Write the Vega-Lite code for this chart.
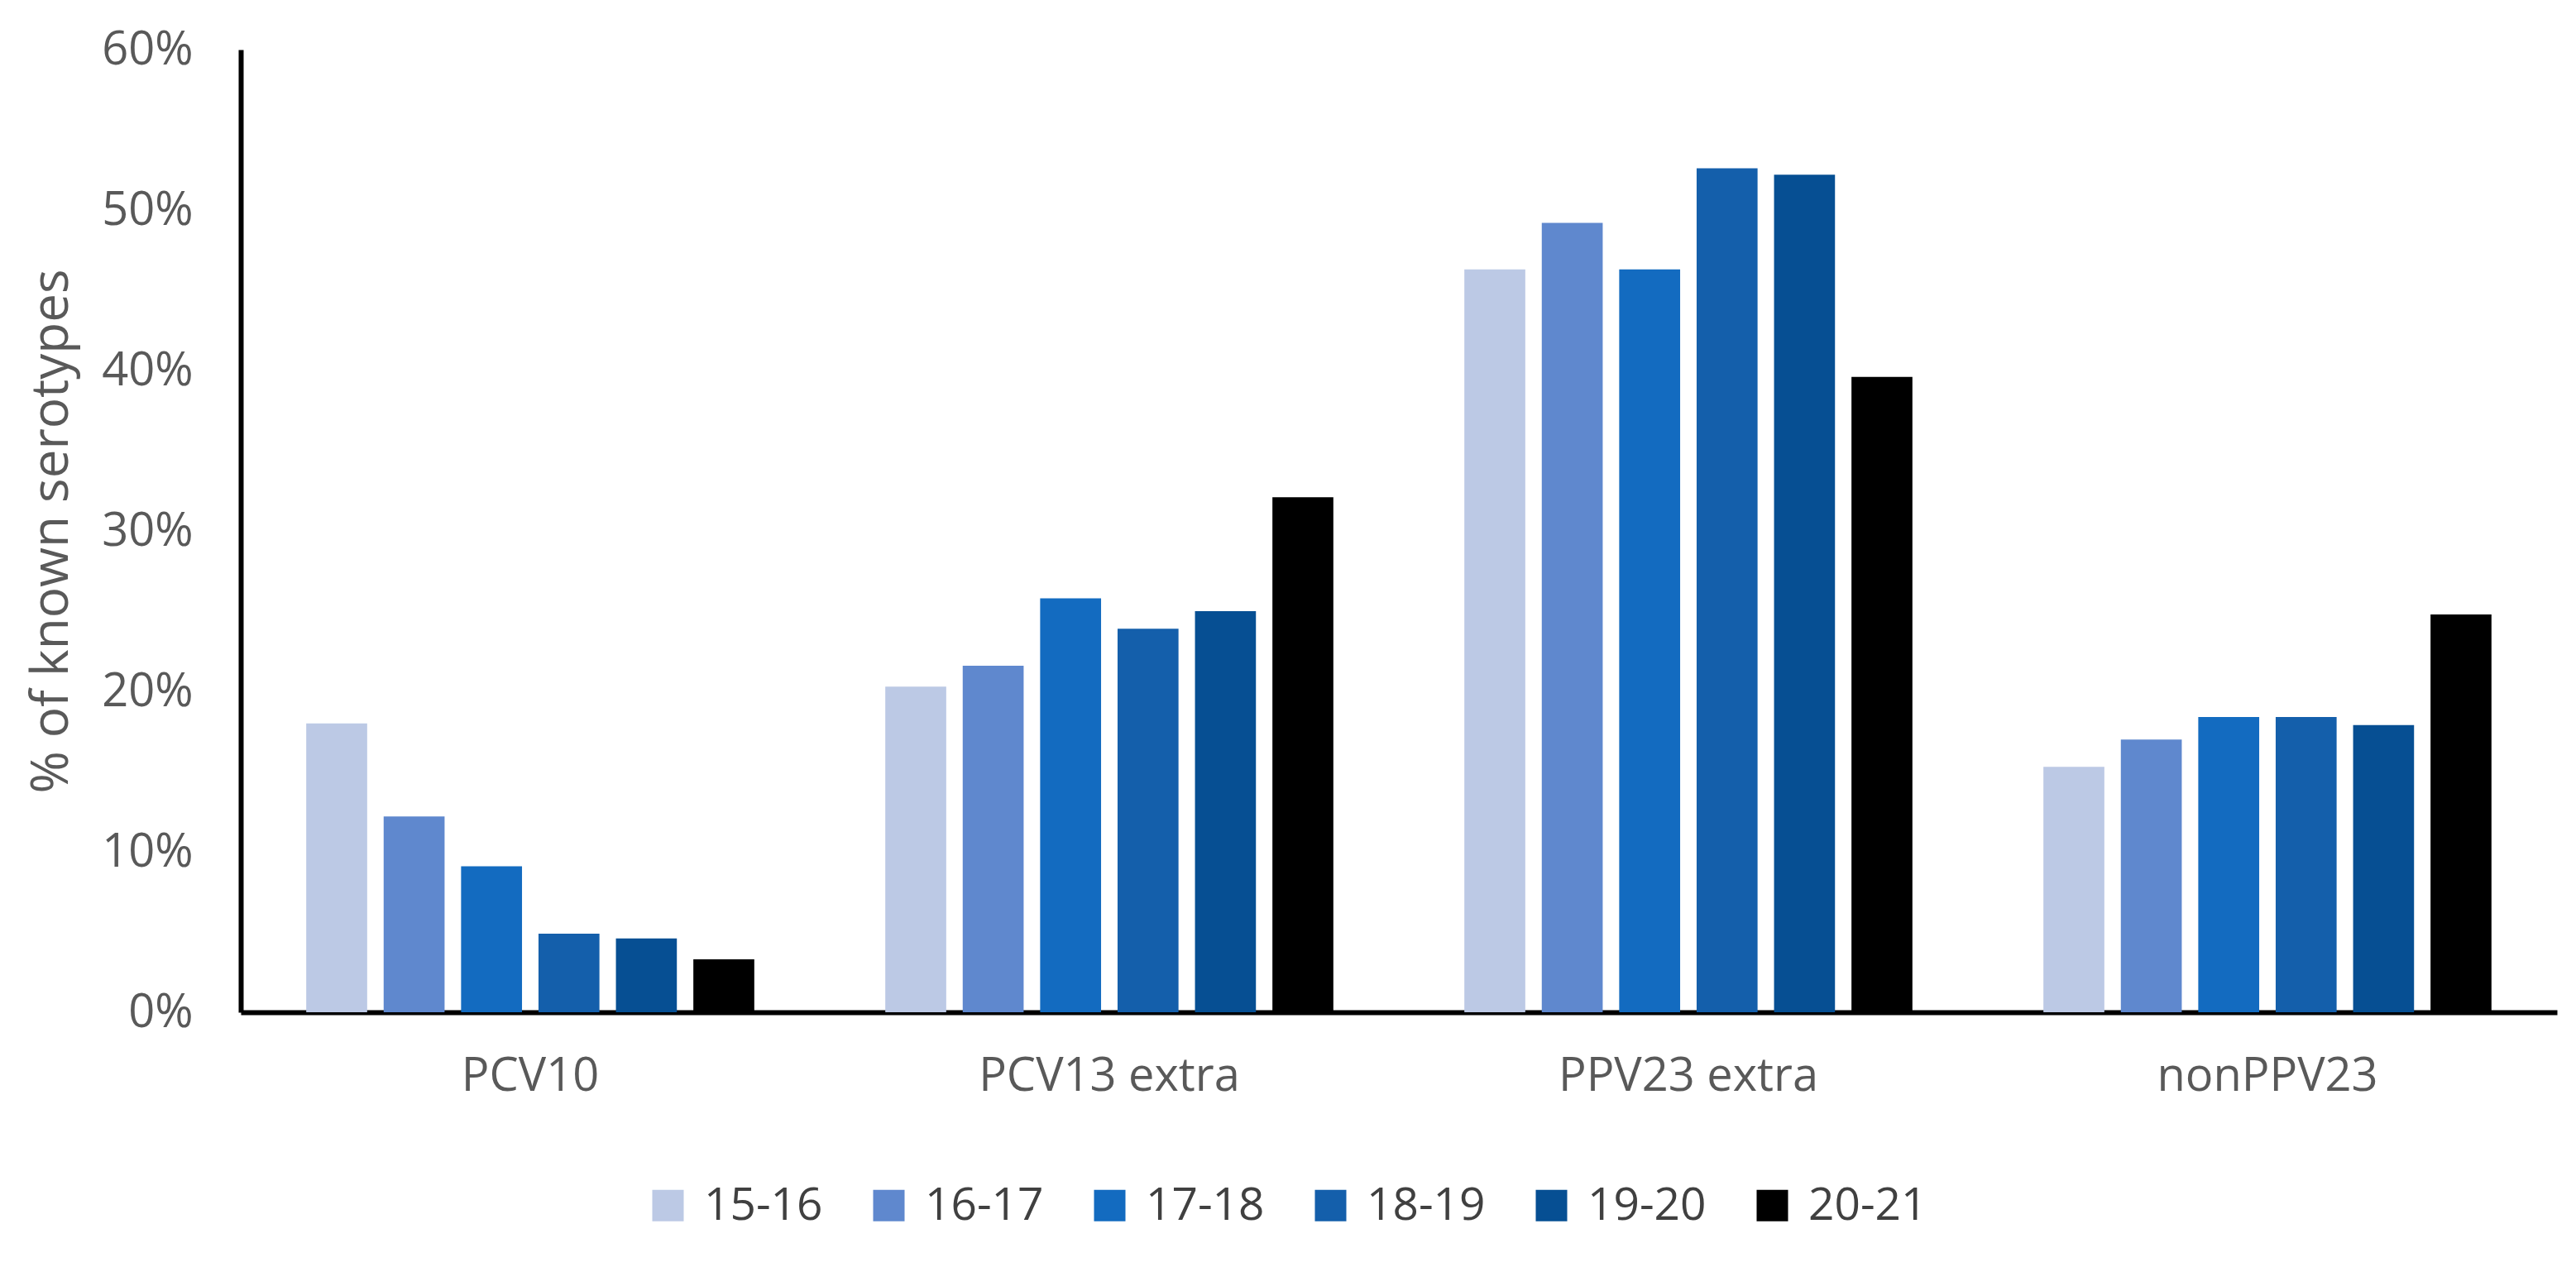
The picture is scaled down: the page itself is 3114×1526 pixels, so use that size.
{
  "$schema": "https://vega.github.io/schema/vega-lite/v6.json",
  "autosize": {"type": "none"},
  "padding": {"left": 291, "top": 60, "right": 23, "bottom": 302},
  "width": 2800,
  "height": 1164,
  "background": "white",
  "config": {
    "font": "Open Sans",
    "view": {"stroke": null}
  },
  "data": {
    "values": [
      {"group": "PCV10", "season": "15-16", "value": 0.180},
      {"group": "PCV10", "season": "16-17", "value": 0.122},
      {"group": "PCV10", "season": "17-18", "value": 0.091},
      {"group": "PCV10", "season": "18-19", "value": 0.049},
      {"group": "PCV10", "season": "19-20", "value": 0.046},
      {"group": "PCV10", "season": "20-21", "value": 0.033},
      {"group": "PCV13 extra", "season": "15-16", "value": 0.203},
      {"group": "PCV13 extra", "season": "16-17", "value": 0.216},
      {"group": "PCV13 extra", "season": "17-18", "value": 0.258},
      {"group": "PCV13 extra", "season": "18-19", "value": 0.239},
      {"group": "PCV13 extra", "season": "19-20", "value": 0.250},
      {"group": "PCV13 extra", "season": "20-21", "value": 0.321},
      {"group": "PPV23 extra", "season": "15-16", "value": 0.463},
      {"group": "PPV23 extra", "season": "16-17", "value": 0.492},
      {"group": "PPV23 extra", "season": "17-18", "value": 0.463},
      {"group": "PPV23 extra", "season": "18-19", "value": 0.526},
      {"group": "PPV23 extra", "season": "19-20", "value": 0.522},
      {"group": "PPV23 extra", "season": "20-21", "value": 0.396},
      {"group": "nonPPV23", "season": "15-16", "value": 0.153},
      {"group": "nonPPV23", "season": "16-17", "value": 0.170},
      {"group": "nonPPV23", "season": "17-18", "value": 0.184},
      {"group": "nonPPV23", "season": "18-19", "value": 0.184},
      {"group": "nonPPV23", "season": "19-20", "value": 0.179},
      {"group": "nonPPV23", "season": "20-21", "value": 0.248}
    ]
  },
  "mark": {"type": "bar"},
  "encoding": {
    "x": {
      "field": "group",
      "type": "nominal",
      "sort": ["PCV10", "PCV13 extra", "PPV23 extra", "nonPPV23"],
      "scale": {"paddingInner": 0, "paddingOuter": 0},
      "axis": {
        "title": null,
        "labelAngle": 0,
        "labelFontSize": 56,
        "labelColor": "#595959",
        "labelPadding": 50,
        "labelLimit": 0,
        "ticks": false,
        "tickSize": 0,
        "domainColor": "#000000",
        "domainWidth": 6,
        "grid": false
      }
    },
    "xOffset": {
      "field": "season",
      "type": "nominal",
      "sort": ["15-16", "16-17", "17-18", "18-19", "19-20", "20-21"],
      "scale": {"paddingInner": 0.213, "paddingOuter": 0.846}
    },
    "y": {
      "field": "value",
      "type": "quantitative",
      "scale": {"domain": [0, 0.6], "nice": false},
      "axis": {
        "title": "% of known serotypes",
        "titleFontSize": 62,
        "titleFontWeight": "normal",
        "titleColor": "#595959",
        "titleX": -229,
        "titleBaseline": "middle",
        "format": ".0%",
        "values": [0, 0.1, 0.2, 0.3, 0.4, 0.5, 0.6],
        "labelFontSize": 56,
        "labelColor": "#595959",
        "labelPadding": 58,
        "ticks": false,
        "tickSize": 0,
        "grid": false,
        "domainColor": "#000000",
        "domainWidth": 6
      }
    },
    "color": {
      "field": "season",
      "type": "nominal",
      "sort": ["15-16", "16-17", "17-18", "18-19", "19-20", "20-21"],
      "scale": {
        "domain": ["15-16", "16-17", "17-18", "18-19", "19-20", "20-21"],
        "range": ["#BCC9E5", "#5F88CE", "#136BC0", "#145FAB", "#064F93", "#000000"]
      },
      "legend": {
        "title": null,
        "orient": "none",
        "direction": "horizontal",
        "legendX": 489,
        "legendY": 1370,
        "symbolType": "square",
        "symbolSize": 1444,
        "symbolStrokeWidth": 0,
        "labelFontSize": 55,
        "labelColor": "#404040",
        "labelOffset": 16,
        "columnPadding": 52,
        "padding": 0
      }
    }
  }
}
